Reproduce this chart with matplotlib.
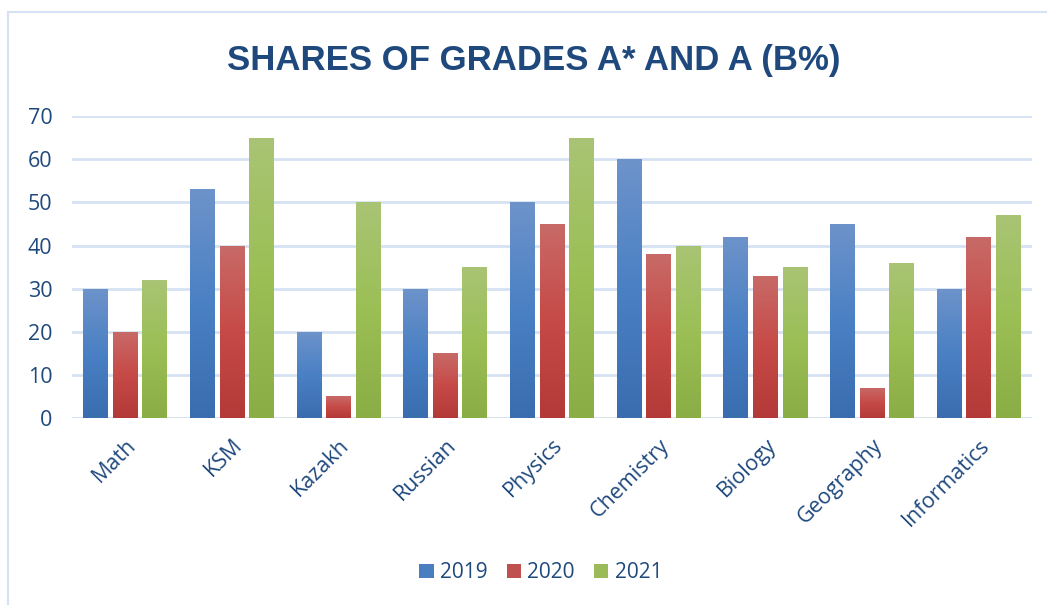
import matplotlib.pyplot as plt
import numpy as np
from matplotlib.colors import LinearSegmentedColormap
from matplotlib.lines import Line2D
from matplotlib.patches import Patch

subjects = ['Math', 'KSM', 'Kazakh', 'Russian', 'Physics',
            'Chemistry', 'Biology', 'Geography', 'Informatics']
years = ['2019', '2020', '2021']
vals_2019 = [30, 53, 20, 30, 50, 60, 42, 45, 30]
vals_2020 = [20, 40, 5, 15, 45, 38, 33, 7, 42]
vals_2021 = [32, 65, 50, 35, 65, 40, 35, 36, 47]
series = [vals_2019, vals_2020, vals_2021]

# gradient stops (bottom, middle, top)
grads = [
    ['#3A6DB0', '#4A80C4', '#6D93CA'],
    ['#B33A38', '#C64A47', '#C86A67'],
    ['#8AAE45', '#9BBF55', '#A9C474'],
]
mids = ['#4A7EC0', '#C0504D', '#9BBB59']
txt = '#1F497D'
grid_c = '#D6E2F3'

fig = plt.figure(figsize=(10.5, 6.05), dpi=100)
ax = fig.add_axes([0.0686, 0.309, 0.9144, 0.499])

# chart border
fig.add_artist(Line2D([8/1050, 8/1050], [0, 1 - 12/605], color=grid_c, lw=1.5))
fig.add_artist(Line2D([8/1050, 1046/1050], [1 - 12/605, 1 - 12/605], color=grid_c, lw=1.5))

x = np.arange(len(subjects))
w = 0.234
offs = [-0.277, 0, 0.277]
for vals, off, g in zip(series, offs, grads):
    cmap = LinearSegmentedColormap.from_list('g', g)
    bars = ax.bar(x + off, vals, w, color='none', edgecolor='none', zorder=3)
    for b in bars:
        x0, y0 = b.get_x(), b.get_y()
        bw, bh = b.get_width(), b.get_height()
        grad = np.linspace(0, 1, 100).reshape(-1, 1)
        im = ax.imshow(grad, extent=[x0, x0 + bw, y0, y0 + bh], origin='lower',
                       aspect='auto', cmap=cmap, zorder=3)
        im.set_clip_path(b)

ax.set_xlim(-0.5, len(subjects) - 0.5)
ax.set_ylim(0, 70)
ax.set_yticks(range(0, 71, 10))
ax.yaxis.grid(True, color=grid_c, lw=2)
ax.set_axisbelow(True)
for s in ax.spines.values():
    s.set_visible(False)
ax.tick_params(length=0, labelsize=15.5, labelcolor=txt)
ax.tick_params(axis='y', pad=14)
ax.tick_params(axis='x', pad=12)
ax.set_xticks(x)
ax.set_xticklabels(subjects, rotation=45, ha='right', rotation_mode='anchor',
                   family='Open Sans')
for lab in ax.get_yticklabels():
    lab.set_family('Open Sans')

fig.text(0.508, 0.9, 'SHARES OF GRADES A* AND A (B%)', ha='center', va='center',
         fontsize=25, fontweight='bold', color=txt, family='Liberation Sans')

handles = [Patch(facecolor=c, label=y) for c, y in zip(mids, years)]
leg = fig.legend(handles=handles, loc='center', bbox_to_anchor=(0.515, 0.053), ncol=3,
                 frameon=False, handlelength=0.7, handleheight=0.7,
                 handletextpad=0.3, columnspacing=0.9, prop={'family': 'Open Sans', 'size': 15})
for t in leg.get_texts():
    t.set_color(txt)

fig.savefig('out.png', dpi=100)
